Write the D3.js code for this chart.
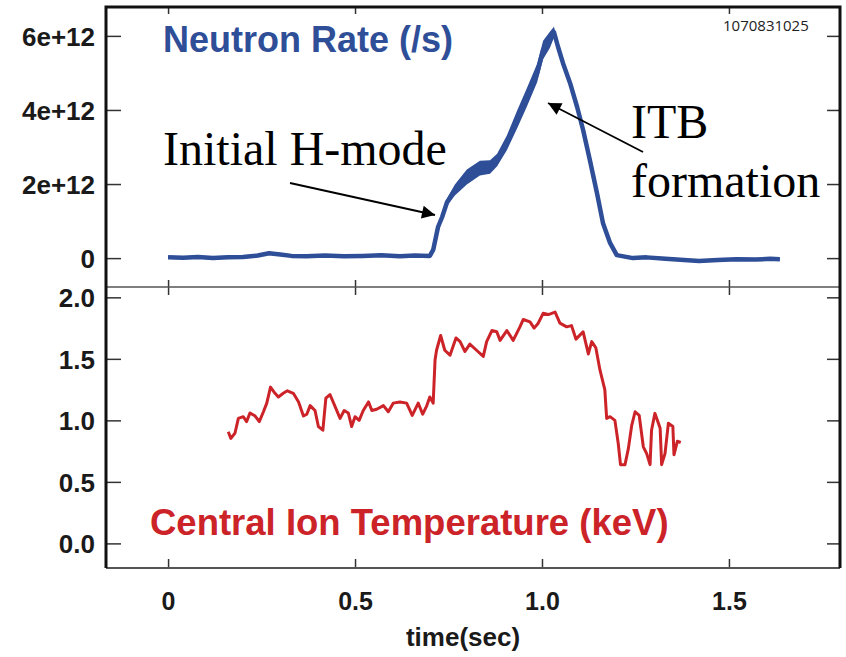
<!DOCTYPE html>
<html>
<head>
<meta charset="utf-8">
<script src="https://cdn.jsdelivr.net/npm/d3@7"></script>
<style>
  body { margin: 0; background: #fff; }
  .tick text { font-family: "Liberation Sans", Arial, sans-serif; font-weight: bold; fill: #1a1a1a; }
  .tick line { stroke: #333; stroke-width: 1.5; }
  .domain { display: none; }
</style>
</head>
<body>
<svg id="chart" width="846" height="657"></svg>
<script>
// Neutron rate (units of 1e12 /s), shot 1070831025
const neutronTime = [0, 0.04, 0.08, 0.12, 0.16, 0.2, 0.24, 0.27, 0.3, 0.33,
  0.37, 0.42, 0.47, 0.52, 0.57, 0.62, 0.66, 0.7,
  0.709, 0.722, 0.733, 0.746, 0.767, 0.799, 0.834, 0.861, 0.88, 0.906,
  0.933, 0.96, 0.987, 1.003, 1.021, 1.032, 1.043, 1.056, 1.075, 1.094,
  1.11, 1.128, 1.147, 1.163, 1.182, 1.2, 1.243, 1.28, 1.33, 1.38,
  1.42, 1.47, 1.52, 1.57, 1.61, 1.636];
const neutronRate = [0.02, 0.01, 0.03, 0.0, 0.02, 0.03, 0.07, 0.13, 0.1, 0.06,
  0.05, 0.07, 0.05, 0.06, 0.08, 0.05, 0.07, 0.06,
  0.22, 0.84, 1.11, 1.51, 1.84, 2.19, 2.43, 2.46, 2.65, 3.11,
  3.73, 4.35, 5.0, 5.62, 5.89, 6.1, 5.7, 5.27, 4.73, 4.08,
  3.46, 2.65, 1.76, 0.95, 0.41, 0.08, 0.0, 0.02, -0.02, -0.05,
  -0.08, -0.05, -0.03, -0.04, -0.02, -0.03];
// half-width of the noise band around the neutron trace
const neutronBand = [0.04, 0.04, 0.04, 0.04, 0.04, 0.04, 0.04, 0.04, 0.04, 0.04,
  0.04, 0.04, 0.04, 0.04, 0.04, 0.04, 0.04, 0.04,
  0.05, 0.07, 0.08, 0.1, 0.15, 0.2, 0.2, 0.18, 0.17, 0.2,
  0.24, 0.25, 0.25, 0.25, 0.22, 0.15, 0.12, 0.1, 0.1, 0.1,
  0.1, 0.1, 0.09, 0.07, 0.05, 0.04, 0.04, 0.04, 0.04, 0.04,
  0.04, 0.04, 0.04, 0.04, 0.04, 0.04];

// Central ion temperature (keV)
const tempTime = [0.161, 0.168, 0.179, 0.188, 0.201, 0.21, 0.219, 0.233, 0.244, 0.255,
  0.264, 0.274, 0.286, 0.295, 0.308, 0.319, 0.335, 0.349, 0.362, 0.371,
  0.38, 0.393, 0.402, 0.414, 0.422, 0.433, 0.447, 0.46, 0.471, 0.482,
  0.491, 0.5, 0.511, 0.522, 0.536, 0.545, 0.558, 0.576, 0.589, 0.602,
  0.62, 0.638, 0.653, 0.669, 0.681, 0.692, 0.7, 0.709, 0.714, 0.718,
  0.729, 0.74, 0.754, 0.77, 0.781, 0.794, 0.807, 0.825, 0.843, 0.852,
  0.866, 0.879, 0.888, 0.906, 0.923, 0.941, 0.95, 0.968, 0.979, 0.99,
  1.003, 1.017, 1.035, 1.048, 1.066, 1.079, 1.091, 1.11, 1.124, 1.133,
  1.144, 1.155, 1.168, 1.173, 1.182, 1.195, 1.204, 1.21, 1.222, 1.231,
  1.24, 1.249, 1.26, 1.271, 1.28, 1.289, 1.293, 1.302, 1.316, 1.32,
  1.329, 1.338, 1.35, 1.353, 1.362, 1.371];
const tempIon = [0.907, 0.853, 0.897, 1.016, 1.03, 0.99, 1.06, 1.035, 0.99, 1.07,
  1.14, 1.27, 1.22, 1.19, 1.22, 1.24, 1.22, 1.15, 1.035, 1.05,
  1.12, 1.08, 0.95, 0.92, 1.18, 1.21, 1.11, 1.016, 1.08, 1.06,
  0.95, 1.03, 1.0, 1.08, 1.15, 1.08, 1.09, 1.12, 1.07, 1.14,
  1.15, 1.14, 1.04, 1.14, 1.05, 1.12, 1.19, 1.14, 1.49, 1.57,
  1.69, 1.57, 1.53, 1.67, 1.64, 1.56, 1.62, 1.57, 1.52, 1.64,
  1.73, 1.72, 1.65, 1.73, 1.65, 1.76, 1.82, 1.8, 1.75, 1.79,
  1.87, 1.86, 1.88, 1.79, 1.76, 1.77, 1.66, 1.72, 1.54, 1.64,
  1.59, 1.41, 1.25, 1.016, 1.03, 1.0, 0.81, 0.64, 0.64, 0.77,
  0.96, 1.07, 1.04, 0.785, 0.73, 0.64, 0.92, 1.057, 0.935, 0.64,
  0.73, 0.976, 0.95, 0.72, 0.83, 0.82];

const xTicks = [0, 0.5, 1.0, 1.5];
const xTickLabels = ["0", "0.5", "1.0", "1.5"];
const neutronTicks = [0, 2, 4, 6];
const neutronTickLabels = ["0", "2e+12", "4e+12", "6e+12"];
const tempTicks = [0, 0.5, 1.0, 1.5, 2.0];
const tempTickLabels = ["0.0", "0.5", "1.0", "1.5", "2.0"];

const blue = "#2f4e98";
const red = "#cc2329";

const svg = d3.select("#chart");

const frameLeft = 106, frameRight = 840, frameTop = 7, frameMid = 287, frameBottom = 568;

const x = d3.scaleLinear().domain([-0.166, 1.797]).range([frameLeft, frameRight]);
const yN = d3.scaleLinear().domain([-0.78, 6.78]).range([frameMid, frameTop]);
const yT = d3.scaleLinear().domain([-0.2, 2.084]).range([frameBottom, frameMid]);

// y axes, ticks pointing inward
function yAxis(scale, ticks, labels) {
  svg.append("g")
    .attr("transform", `translate(${frameLeft},0)`)
    .call(d3.axisLeft(scale).tickValues(ticks)
      .tickFormat((d, i) => labels[i]).tickSize(-15).tickPadding(11))
    .selectAll("text").style("font-size", "26px").attr("dy", "0.36em");
  svg.append("g")
    .attr("transform", `translate(${frameRight},0)`)
    .call(d3.axisRight(scale).tickValues(ticks).tickFormat("").tickSize(-13));
}
yAxis(yN, neutronTicks, neutronTickLabels);
yAxis(yT, tempTicks, tempTickLabels);

// x ticks along top border, both sides of the divider, and bottom border
svg.append("g").attr("transform", `translate(0,${frameTop})`)
  .call(d3.axisTop(x).tickValues(xTicks).tickFormat("").tickSize(-7));
svg.append("g").attr("transform", `translate(0,${frameMid})`)
  .call(d3.axisTop(x).tickValues(xTicks).tickFormat("").tickSize(7));
svg.append("g").attr("transform", `translate(0,${frameMid})`)
  .call(d3.axisBottom(x).tickValues(xTicks).tickFormat("").tickSize(8));
svg.append("g").attr("transform", `translate(0,${frameBottom})`)
  .call(d3.axisBottom(x).tickValues(xTicks).tickFormat((d, i) => xTickLabels[i])
    .tickSize(-9).tickPadding(24))
  .selectAll("text").style("font-size", "25px");

// frame
svg.append("line").attr("x1", frameLeft).attr("x2", frameRight).attr("y1", frameMid).attr("y2", frameMid)
  .attr("stroke", "#555").attr("stroke-width", 1.5);
svg.append("line").attr("x1", frameLeft).attr("x2", frameRight).attr("y1", frameBottom).attr("y2", frameBottom)
  .attr("stroke", "#555").attr("stroke-width", 1.8);
svg.append("path")
  .attr("d", `M${frameLeft},${frameBottom} L${frameLeft},${frameTop} L${frameRight},${frameTop} L${frameRight},${frameBottom}`)
  .attr("fill", "none").attr("stroke", "#111").attr("stroke-width", 3);

// neutron trace with its noise band
const nData = neutronTime.map((t, i) => ({ t, v: neutronRate[i], b: neutronBand[i] }));
svg.append("path").datum(nData)
  .attr("d", d3.area().x(d => x(d.t)).y0(d => yN(d.v - d.b)).y1(d => yN(d.v + d.b)))
  .attr("fill", blue);
svg.append("path").datum(nData)
  .attr("d", d3.line().x(d => x(d.t)).y(d => yN(d.v)))
  .attr("fill", "none").attr("stroke", blue).attr("stroke-width", 4.5)
  .attr("stroke-linejoin", "round");

// ion temperature trace
const tData = tempTime.map((t, i) => ({ t, v: tempIon[i] }));
svg.append("path").datum(tData)
  .attr("d", d3.line().x(d => x(d.t)).y(d => yT(d.v)))
  .attr("fill", "none").attr("stroke", red).attr("stroke-width", 3)
  .attr("stroke-linejoin", "round");

// titles
const sans = "'Liberation Sans', Arial, sans-serif";
const serif = "'Liberation Serif', 'Times New Roman', serif";
svg.append("text").attr("x", 163).attr("y", 52).text("Neutron Rate (/s)")
  .style("font-family", sans).style("font-weight", "bold").style("font-size", "36px")
  .attr("fill", blue);
svg.append("text").attr("x", 150).attr("y", 535).text("Central Ion Temperature (keV)")
  .style("font-family", sans).style("font-weight", "bold").style("font-size", "36.5px")
  .attr("fill", red);
svg.append("text").attr("x", 723).attr("y", 31).text("1070831025")
  .style("font-family", "'Open Sans', sans-serif").style("font-size", "15px").attr("fill", "#222");
svg.append("text").attr("x", 463).attr("y", 646).attr("text-anchor", "middle").text("time(sec)")
  .style("font-family", sans).style("font-weight", "bold").style("font-size", "26px").attr("fill", "#1a1a1a");

// annotations
function label(txt, px, py) {
  svg.append("text").attr("x", px).attr("y", py).text(txt)
    .style("font-family", serif).style("font-size", "48px").attr("fill", "#000");
}
label("Initial H-mode", 163, 165);
label("ITB", 631, 138);
label("formation", 631, 197);

svg.append("defs").append("marker")
  .attr("id", "head").attr("viewBox", "0 0 10 10").attr("refX", 10).attr("refY", 5)
  .attr("markerWidth", 20).attr("markerHeight", 13).attr("markerUnits", "userSpaceOnUse")
  .attr("orient", "auto")
  .append("path").attr("d", "M0,0 L10,5 L0,10 Z").attr("fill", "#000");

function arrow(x1, y1, x2, y2) {
  svg.append("line").attr("x1", x1).attr("y1", y1).attr("x2", x2).attr("y2", y2)
    .attr("stroke", "#000").attr("stroke-width", 1.8).attr("marker-end", "url(#head)");
}
arrow(290, 183, 435, 215);
arrow(643, 152, 548, 103);
</script>
</body>
</html>
